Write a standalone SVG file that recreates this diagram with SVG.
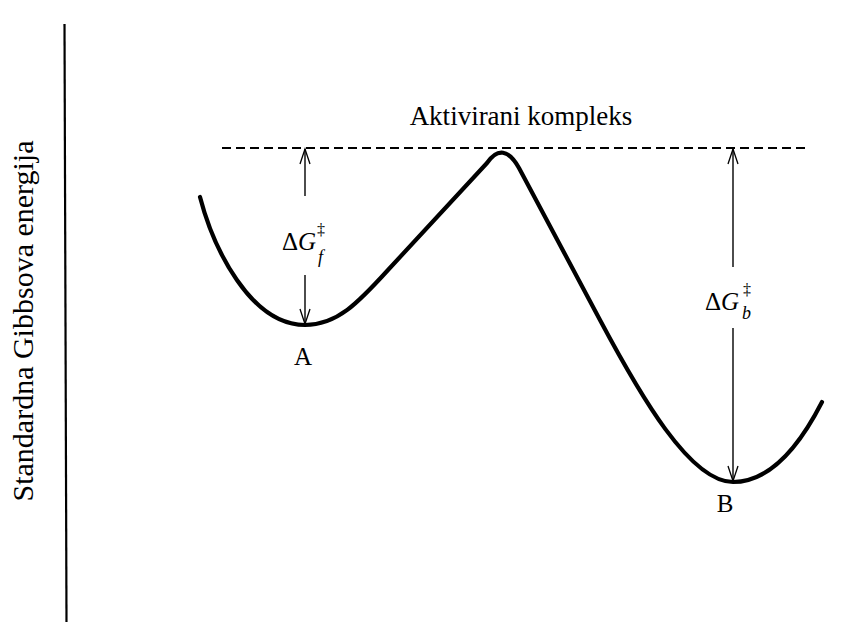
<svg xmlns="http://www.w3.org/2000/svg" width="862" height="626" viewBox="0 0 862 626">
<defs>
<style>
.serif{font-family:"Liberation Serif","Times New Roman",serif;fill:#000}
.arr{stroke:#000;stroke-width:1.4;fill:none}
.curve{stroke:#000;stroke-width:4.2;fill:none;stroke-linecap:round;stroke-linejoin:round}
</style>
<marker id="ah" markerUnits="userSpaceOnUse" markerWidth="18" markerHeight="14" viewBox="0 0 18 14" refX="16" refY="7" orient="auto">
<path d="M1,2 L16,7 L1,12" fill="none" stroke="#000" stroke-width="1.3"/>
</marker>
</defs>
<rect width="862" height="626" fill="#fff"/>
<g id="axis">
<line x1="64.5" y1="24" x2="66.5" y2="622" stroke="#000" stroke-width="2.2"/>
<text class="serif" font-size="30" text-anchor="middle" transform="translate(33,321) rotate(-90)">Standardna Gibbsova energija</text>
</g>
<g id="activated-level">
<line x1="222" y1="148" x2="808" y2="148" stroke="#000" stroke-width="2" stroke-dasharray="9,5"/>
<text class="serif" font-size="27" x="521" y="125" text-anchor="middle">Aktivirani kompleks</text>
</g>
<g id="energy-curve">
<path class="curve" d="M200,197 C213,247 250,325 305,325 C337,325 358,303 388,270 L487,163 Q503,140 519,168 L600,320 C640,395 690,482 733,482 C770,482 800,445 822,402"/>
</g>
<g id="connectors">
<line class="arr" x1="305" y1="196" x2="305" y2="149" marker-end="url(#ah)"/>
<line class="arr" x1="305" y1="275" x2="305" y2="324" marker-end="url(#ah)"/>
<line class="arr" x1="733" y1="267" x2="733" y2="149" marker-end="url(#ah)"/>
<line class="arr" x1="733" y1="328" x2="733" y2="481" marker-end="url(#ah)"/>
</g>
<g id="label-dGf">
<text class="serif" font-size="25" x="282" y="250">Δ<tspan font-style="italic">G</tspan></text>
<text class="serif" font-size="16" x="317" y="235">‡</text>
<text class="serif" font-size="18" font-style="italic" x="318" y="263">f</text>
</g>
<g id="label-dGb">
<text class="serif" font-size="25" x="705" y="310">Δ<tspan font-style="italic">G</tspan></text>
<text class="serif" font-size="16" x="743" y="295">‡</text>
<text class="serif" font-size="18" font-style="italic" x="742" y="319">b</text>
</g>
<g id="node-A">
<text class="serif" font-size="25" x="303" y="365" text-anchor="middle">A</text>
</g>
<g id="node-B">
<text class="serif" font-size="25" x="725" y="512" text-anchor="middle">B</text>
</g>
</svg>
